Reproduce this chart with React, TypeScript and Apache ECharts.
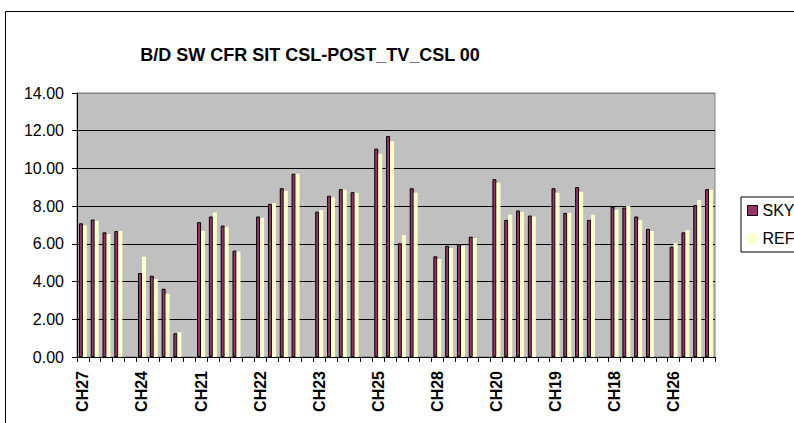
import React, { useEffect, useRef } from "react";
import * as echarts from "echarts";

const groups = ["CH27", "CH24", "CH21", "CH22", "CH23", "CH25", "CH28", "CH20", "CH19", "CH18", "CH26"];

// 4 values per group, in order
const skyValues = [
  7.09, 7.29, 6.61, 6.68,
  4.45, 4.31, 3.62, 1.26,
  7.15, 7.45, 6.97, 5.64,
  7.45, 8.12, 8.95, 9.72,
  7.71, 8.55, 8.9, 8.74,
  11.05, 11.72, 6.03, 8.95,
  5.34, 5.9, 5.98, 6.38,
  9.43, 7.27, 7.77, 7.5,
  8.95, 7.64, 9.01, 7.27,
  7.98, 7.93, 7.45, 6.79,
  5.85, 6.61, 8.05, 8.9,
];

const refValues = [
  6.97, 7.23, 6.52, 6.68,
  5.32, 4.13, 3.35, 1.31,
  6.68, 7.66, 6.91, 5.59,
  7.39, 8.17, 8.81, 9.72,
  7.8, 8.46, 8.87, 8.71,
  10.78, 11.44, 6.47, 8.71,
  5.2, 5.78, 5.89, 6.31,
  9.24, 7.54, 7.7, 7.45,
  8.71, 7.64, 8.76, 7.54,
  7.82, 8.01, 7.27, 6.68,
  6.05, 6.72, 8.33, 8.87,
];

const yTicks = [0, 2, 4, 6, 8, 10, 12, 14];

const PER_GROUP = 4;

function buildSlots() {
  const cats: string[] = [];
  const sky: (number | null)[] = [];
  const ref: (number | null)[] = [];
  groups.forEach((g, gi) => {
    for (let k = 0; k < PER_GROUP; k++) {
      cats.push(k === 0 ? g : "");
      sky.push(skyValues[gi * PER_GROUP + k]);
      ref.push(refValues[gi * PER_GROUP + k]);
    }
    if (gi < groups.length - 1) {
      cats.push("");
      sky.push(null);
      ref.push(null);
    }
  });
  return { cats, sky, ref };
}

export default function App() {
  const ref = useRef<HTMLDivElement>(null);
  useEffect(() => {
    if (!ref.current) return;
    const chart = echarts.init(ref.current, null, { renderer: "svg" });
    const { cats, sky, ref: refData } = buildSlots();
    const font = "Arial, 'Liberation Sans', sans-serif";
    chart.setOption({
      animation: false,
      backgroundColor: "#ffffff",
      title: {
        text: "B/D SW CFR SIT CSL-POST_TV_CSL 00",
        left: 310,
        textAlign: "center",
        top: 46,
        padding: 0,
        textStyle: { fontFamily: font, fontSize: 18, fontWeight: "bold", color: "#000" },
      },
      graphic: [
        {
          type: "rect",
          shape: { x: 5.5, y: 11.5, width: 900, height: 500 },
          style: { fill: "none", stroke: "#000", lineWidth: 1 },
          silent: true,
          z: -10,
        },
      ],
      legend: {
        orient: "vertical",
        left: 741,
        top: 197,
        padding: [5, 40, 5, 6],
        borderColor: "#000",
        borderWidth: 1,
        backgroundColor: "#fff",
        itemWidth: 10,
        itemHeight: 10,
        itemGap: 11,
        icon: "rect",
        textStyle: { fontFamily: font, fontSize: 16, color: "#000", lineHeight: 17 },
        data: [
          { name: "SKY", itemStyle: { color: "#993366", borderColor: "#000", borderWidth: 1 } },
          { name: "REF", itemStyle: { color: "#FFFFCC", borderWidth: 0 } },
        ],
      },
      grid: {
        left: 77,
        right: 79,
        top: 93,
        bottom: 66,
        show: true,
        backgroundColor: "#C0C0C0",
        borderColor: "#808080",
        borderWidth: 1,
      },
      xAxis: {
        type: "category",
        data: cats,
        axisLine: { lineStyle: { color: "#000", width: 1 } },
        axisTick: { show: true, interval: 0, length: 5, lineStyle: { color: "#000" } },
        axisLabel: {
          interval: 0,
          rotate: 90,
          margin: 14,
          fontFamily: font,
          fontSize: 16,
          fontWeight: "bold",
          color: "#000",
        },
        splitLine: { show: false },
      },
      yAxis: {
        type: "value",
        min: yTicks[0],
        max: yTicks[yTicks.length - 1],
        interval: 2,
        axisLine: { show: true, lineStyle: { color: "#000", width: 1 } },
        axisTick: { show: true, length: 5, lineStyle: { color: "#000" } },
        axisLabel: {
          margin: 13,
          fontFamily: font,
          fontSize: 16,
          color: "#000",
          formatter: (v: number) => v.toFixed(2),
        },
        splitLine: {
          show: true,
          lineStyle: {
            color: ["#000", "#000", "#000", "#000", "#000", "#000", "#000", "#808080"],
            width: 1,
          },
        },
      },
      series: [
        {
          name: "SKY",
          type: "bar",
          data: sky,
          barWidth: 4,
          barGap: "0%",
          itemStyle: { color: "#993366", borderColor: "#000", borderWidth: 1 },
        },
        {
          name: "REF",
          type: "bar",
          data: refData,
          barWidth: 4,
          itemStyle: { color: "#FFFFCC" },
        },
      ],
    });
    return () => chart.dispose();
  }, []);
  return (
    <div
      ref={ref}
      style={{ position: "fixed", left: 0, top: 0, width: 794, height: 423 }}
    />
  );
}
